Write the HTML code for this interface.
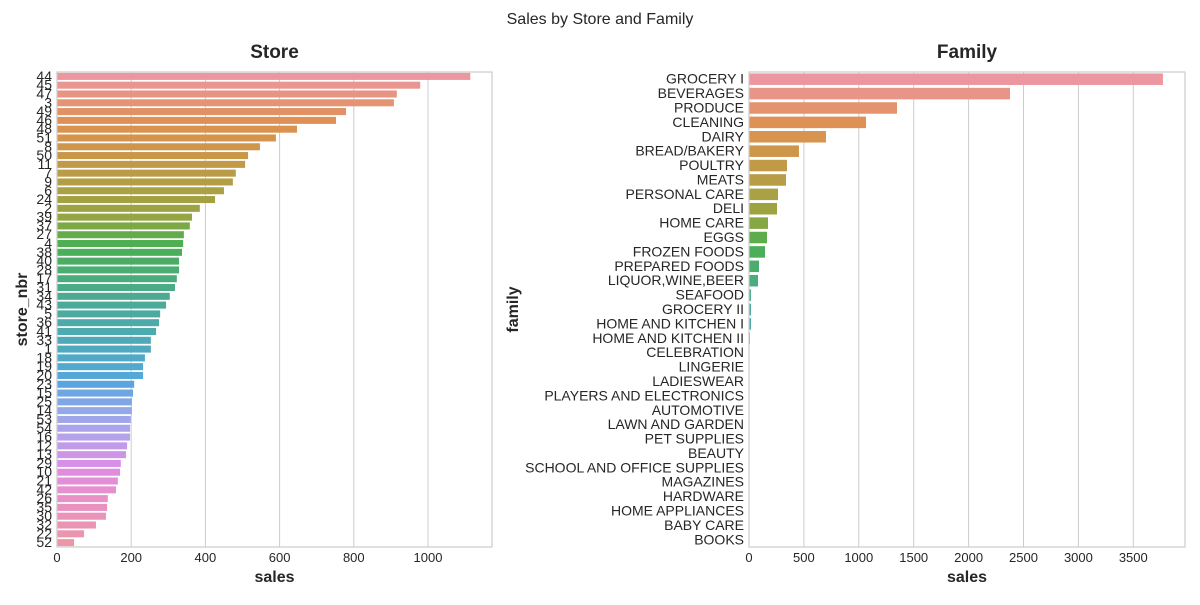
<!DOCTYPE html>
<html><head><meta charset="utf-8"><style>
body{margin:0;background:#fff;font-family:"Liberation Sans",sans-serif;}
svg text{font-family:"Liberation Sans",sans-serif;fill:#262626;}
</style></head><body>
<svg id="c" width="1200" height="600">
<text x="600" y="24" text-anchor="middle" font-size="16">Sales by Store and Family</text>
</svg>
<script>
const storeLabels=["44","45","47","3","49","46","48","51","8","50","11","7","9","6","24","2","39","37","27","4","38","40","28","17","31","34","43","5","36","41","33","1","18","19","20","23","15","25","14","53","54","16","12","13","29","10","21","42","26","35","30","32","22","52"];
const storeSales=[1114,979,916,908,779,752,647,590,547,515,507,482,474,450,426,385,364,358,342,340,337,329,329,323,318,304,294,278,275,267,253,253,237,232,232,208,205,202,202,199,197,197,189,186,172,170,164,159,137,135,132,105,73,46];
const storeTicks=[0,200,400,600,800,1000];
const famLabels=["GROCERY I","BEVERAGES","PRODUCE","CLEANING","DAIRY","BREAD/BAKERY","POULTRY","MEATS","PERSONAL CARE","DELI","HOME CARE","EGGS","FROZEN FOODS","PREPARED FOODS","LIQUOR,WINE,BEER","SEAFOOD","GROCERY II","HOME AND KITCHEN I","HOME AND KITCHEN II","CELEBRATION","LINGERIE","LADIESWEAR","PLAYERS AND ELECTRONICS","AUTOMOTIVE","LAWN AND GARDEN","PET SUPPLIES","BEAUTY","SCHOOL AND OFFICE SUPPLIES","MAGAZINES","HARDWARE","HOME APPLIANCES","BABY CARE","BOOKS"];
const famSales=[3770,2377,1348,1066,701,455,346,337,264,255,173,164,146,91,82,18,18,18,9,5,4,4,3,3,3,2,2,2,2,1,1,1,0];
const famTicks=[0,500,1000,1500,2000,2500,3000,3500];

const anchors=[[0,236,150,160],[0.1,222,145,80],[0.2,190,155,70],[0.3,150,165,65],[0.36,75,175,80],[0.48,75,170,150],[0.62,80,170,205],[0.66,90,165,225],[0.72,150,168,232],[0.77,180,162,236],[0.84,222,140,230],[0.9,232,145,200],[1.0,236,150,168]];
function pal(t){for(let i=0;i<anchors.length-1;i++){const a=anchors[i],b=anchors[i+1];if(t<=b[0]){const f=(t-a[0])/(b[0]-a[0]);return `rgb(${[1,2,3].map(k=>Math.round(a[k]+(b[k]-a[k])*f)).join(',')})`;}}return 'rgb(236,150,168)';}
const svg=document.getElementById('c');const NS='http://www.w3.org/2000/svg';
function mk(tag,attrs,parent){const e=document.createElementNS(NS,tag);for(const k in attrs)e.setAttribute(k,attrs[k]);(parent||svg).appendChild(e);return e;}
function panel(p){
 const g=mk('g',{});
 
 
 const x=v=>p.x0+(v-0)*(p.x1-p.x0)/p.max;
 const n=p.labels.length, bh=(p.y1-p.y0)/n;
 p.ticks.forEach(t=>{
  const l=mk('line',{x1:x(t),x2:x(t),y1:p.y0,y2:p.y1,stroke:'#cccccc','stroke-width':1},g);
  
  
  const tx=mk('text',{x:x(t),y:p.y1+15,'text-anchor':'middle','font-size':13},g);tx.textContent=t;
  
  
 });
 p.labels.forEach((lab,i)=>{
  const yc=p.y0+bh*(i+0.5);
  const r=mk('rect',{x:p.x0,y:yc-bh*0.4,width:Math.max(0,x(p.values[i])-p.x0),height:bh*0.8,fill:pal(i/(n-1))},g);
  
  
  const t=mk('text',{x:p.x0-5,y:yc+4.5,'text-anchor':'end','font-size':p.fs},g);t.textContent=lab;
  
  
 });
 const fr=mk('rect',{x:p.x0,y:p.y0,width:p.x1-p.x0,height:p.y1-p.y0,fill:'none',stroke:'#cccccc','stroke-width':1.2},g);
 
 
 const ti=mk('text',{x:(p.x0+p.x1)/2,y:58,'text-anchor':'middle','font-size':19,'font-weight':'bold'},g);ti.textContent=p.title;
 
 
 const xl=mk('text',{x:(p.x0+p.x1)/2,y:582,'text-anchor':'middle','font-size':16,'font-weight':'bold'},g);xl.textContent='sales';
 
 
 const yl=mk('text',{x:p.ylx,y:(p.y0+p.y1)/2,'text-anchor':'middle','font-size':16,'font-weight':'bold',transform:`rotate(-90 ${p.ylx} ${(p.y0+p.y1)/2})`},g);yl.textContent=p.ytitle;
 
 
}
panel({name:'store',x0:57,x1:492,y0:72,y1:547,max:(492-57)/0.371,labels:storeLabels,values:storeSales,ticks:storeTicks,fs:14,title:'Store',ytitle:'store_nbr',ylx:27});
panel({name:'family',x0:749,x1:1185,y0:72,y1:547,max:(1185-749)/0.1098,labels:famLabels,values:famSales,ticks:famTicks,fs:14,title:'Family',ytitle:'family',ylx:518});
</script>
</body></html>
